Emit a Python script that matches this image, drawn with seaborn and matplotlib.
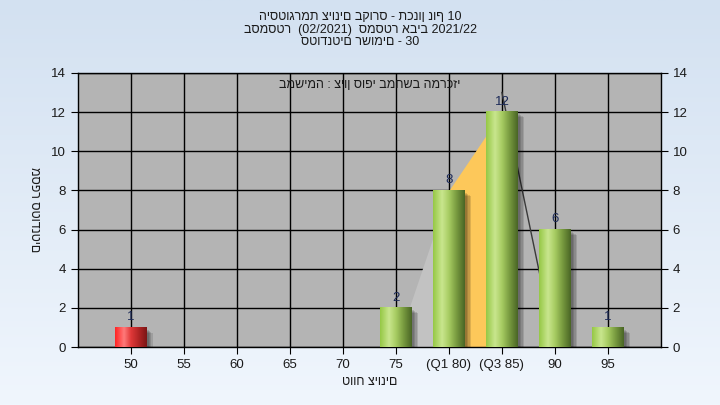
import numpy as np
import pandas as pd
import matplotlib
matplotlib.use("Agg")
import matplotlib.pyplot as plt
from matplotlib.colors import to_rgb
from matplotlib.patches import Rectangle
import seaborn as sns

# ---------------- data ----------------
categories = ["50", "55", "60", "65", "70", "75", "(Q1 80)", "(Q3 85)", "90", "95"]
counts = [1, 0, 0, 0, 0, 2, 8, 12, 6, 1]
failing = [True, False, False, False, False, False, False, False, False, False]
# quartile area outline (category index, value)
low_area_x = [5, 6]
low_area_y = [0, 8]
iqr_area_x = [6, 7]
iqr_area_y = [8, 12]
tail_line_x = [7, 8]
tail_line_y = [13, 0]
yticks = [0, 2, 4, 6, 8, 10, 12, 14]

title_lines = [
    "היסטוגרמת ציונים בקורס - תכנון נוף 10",
    "בסמסטר  (02/2021)  סמסטר אביב 2021/22",
    "סטודנטים רשומים - 30",
]
inner_title = "במשימה : ציון סופי במחשב המרכזי"
x_label = "טווח ציונים"
y_label = "מספר סטודנטים"

plt.rcParams["font.family"] = ["Liberation Sans Narrow", "Liberation Sans", "DejaVu Sans"]

df = pd.DataFrame({"cat": categories, "count": counts})

fig = plt.figure(figsize=(7.2, 4.05), dpi=100)

# background gradient
bg = fig.add_axes([0, 0, 1, 1], zorder=-10)
top_c = np.array(to_rgb("#d3e1f1"))
bot_c = np.array(to_rgb("#f0f6fd"))
t = np.linspace(0, 1, 256)[:, None]
grad = top_c[None, None, :] * (1 - t[..., None]) + bot_c[None, None, :] * t[..., None]
grad = np.repeat(grad, 2, axis=1)
bg.imshow(grad, extent=[0, 1, 0, 1], aspect="auto", origin="upper")
bg.set_axis_off()

ax = fig.add_axes([0.108, 0.143, 0.810, 0.677])
ax.set_facecolor("#b4b4b4")

sns.barplot(data=df, x="cat", y="count", order=categories, width=0.6,
            color="#8cc040", ax=ax, zorder=3, saturation=1)

# quartile areas
ax.fill_between(low_area_x, 0, low_area_y, color="#c2c2c2", zorder=2, lw=0)
ax.fill_between(iqr_area_x, 0, iqr_area_y, color="#fdc85a", zorder=2, lw=0)
ax.plot(tail_line_x, tail_line_y, color="#3a3a3a", lw=1, zorder=2)

green_stops = ["#96c846", "#c9e68e", "#a7cc62", "#76983e", "#4a6626"]
red_stops = ["#ff2424", "#ff7a7a", "#e03838", "#b02424", "#7c1616"]
stop_pos = [0.0, 0.28, 0.5, 0.75, 1.0]


def gradient_row(stops):
    cols = np.array([to_rgb(c) for c in stops])
    xs = np.linspace(0, 1, 64)
    row = np.stack([np.interp(xs, stop_pos, cols[:, k]) for k in range(3)], axis=-1)
    return row[None, :, :]


bars = [p for p in ax.patches if isinstance(p, Rectangle)][: len(counts)]
for p, is_fail in zip(bars, failing):
    h = p.get_height()
    if h <= 0:
        continue
    x0 = p.get_x()
    w = p.get_width()
    # soft shadow
    for k, a in enumerate([0.12, 0.12, 0.12, 0.12]):
        ax.add_patch(Rectangle((x0 + 0.04 + 0.025 * k, -0.4), w, h + 0.4 - 0.12 - 0.05 * k,
                               color="black", alpha=a, lw=0, zorder=2.5))
    img = gradient_row(red_stops if is_fail else green_stops)
    ax.imshow(img, extent=[x0, x0 + w, 0, h], aspect="auto", zorder=3.5,
              interpolation="bilinear")
    ax.annotate(str(int(h)), (x0 + w / 2, h), xytext=(0, 3), textcoords="offset points",
                ha="center", va="bottom", fontsize=9.5, color="#1c2a58", zorder=5)

ax.set_xlim(-1, 10)
ax.set_ylim(0, 14)
ax.set_yticks(yticks)
ax.set_xticks(range(len(categories)))
ax.set_xticklabels(categories)
ax.set_axisbelow(True)
ax.grid(True, color="black", lw=1, zorder=0)
for s in ax.spines.values():
    s.set_color("black")
    s.set_linewidth(1)
ax.tick_params(axis="both", direction="out", length=5, color="black",
               labelsize=9.5, labelcolor="#1a1a1a")
ax.tick_params(axis="y", right=True, labelright=True)
ax.set_xlabel(x_label, fontsize=9, color="#1a1a1a", labelpad=4)
ax.set_ylabel("")
fig.text(34 / 720, 1 - 210 / 405, y_label, rotation=270, ha="center", va="center",
         fontsize=9, color="#1a1a1a")

ax.text(0.5, 0.955, inner_title, transform=ax.transAxes, ha="center", va="center",
        fontsize=9, color="#1a1a1a", zorder=6)

for i, line in enumerate(title_lines):
    fig.text(0.5, 1 - (17 + 12.5 * i) / 405, line, ha="center", va="center",
             fontsize=9, color="#1a1a1a")

fig.savefig("out.png", dpi=100)
